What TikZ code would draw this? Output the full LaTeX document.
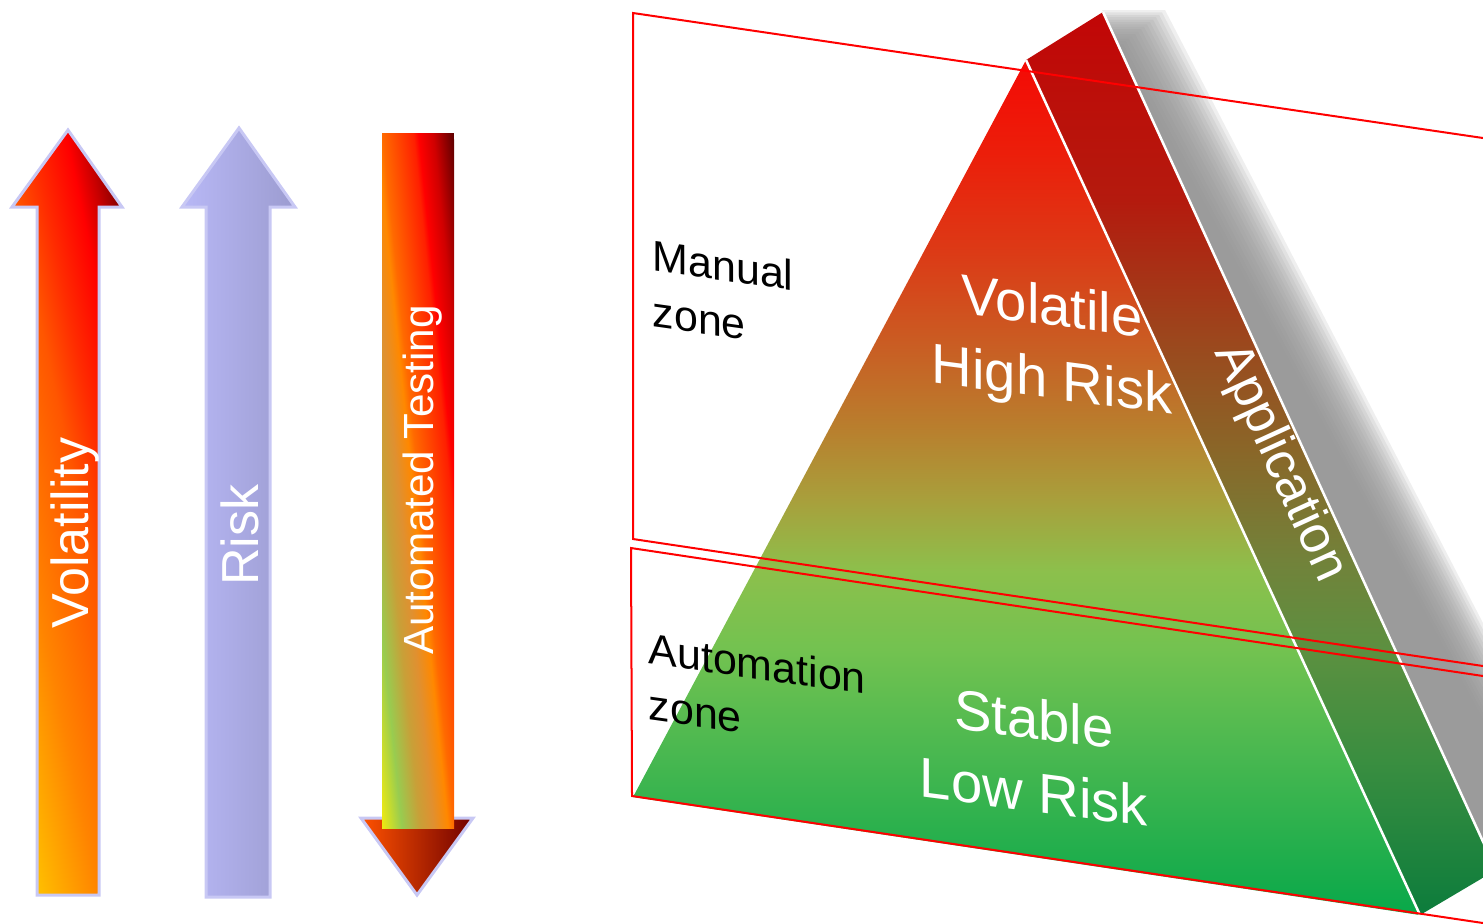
\documentclass[tikz,border=0pt]{standalone}
\usepackage{fontspec}
\setmainfont{Liberation Sans}

% colours
\definecolor{lavline}{HTML}{C8C8F4}
\definecolor{riskL}{HTML}{B8B8F6}
\definecolor{riskR}{HTML}{9C9CD0}
\definecolor{headL}{HTML}{FF5200}
\definecolor{headR}{HTML}{700000}
\definecolor{shadowgray}{HTML}{939393}
\definecolor{volA}{HTML}{FFC800}
\definecolor{volB}{HTML}{FFC000}
\definecolor{volC}{HTML}{FF8400}
\definecolor{volD}{HTML}{FF5600}
\definecolor{volE}{HTML}{FF2C00}
\definecolor{volF}{HTML}{FF0000}
\definecolor{volG}{HTML}{C80000}
\definecolor{volH}{HTML}{800000}
\definecolor{volI}{HTML}{700000}
\definecolor{atA}{HTML}{F0EA10}
\definecolor{atB}{HTML}{98CC50}
\definecolor{atC}{HTML}{C8A038}
\definecolor{atD}{HTML}{E09030}
\definecolor{atE}{HTML}{FF8800}
\definecolor{atF}{HTML}{FF6A00}
\definecolor{atG}{HTML}{FF2000}
\definecolor{atH}{HTML}{FF0000}
\definecolor{atI}{HTML}{D00000}
\definecolor{atJ}{HTML}{5A0000}
\definecolor{fr1}{HTML}{08A84A}
\definecolor{fr2}{HTML}{4AB850}
\definecolor{fr3}{HTML}{72C250}
\definecolor{fr4}{HTML}{8CC04C}
\definecolor{fr5}{HTML}{A8A03C}
\definecolor{fr6}{HTML}{B8802E}
\definecolor{fr7}{HTML}{C86024}
\definecolor{fr8}{HTML}{DC3A16}
\definecolor{fr9}{HTML}{EC1E0A}
\definecolor{fr10}{HTML}{F40A05}
\definecolor{sd1}{HTML}{0C7C3C}
\definecolor{sd2}{HTML}{3A8E40}
\definecolor{sd3}{HTML}{5C9040}
\definecolor{sd4}{HTML}{72823A}
\definecolor{sd5}{HTML}{8A6628}
\definecolor{sd6}{HTML}{9A4A1E}
\definecolor{sd7}{HTML}{B41A0E}
\definecolor{sd8}{HTML}{C20606}

% shadings (25bp = bottom of the shaded box, 75bp = top)
\pgfdeclareverticalshading{volshade}{100bp}{color(0bp)=(volA); color(25bp)=(volA); color(29.6bp)=(volB);
  color(41bp)=(volC); color(52.5bp)=(volD); color(58bp)=(volE); color(64.5bp)=(volF); color(68bp)=(volG);
  color(72bp)=(volH); color(75bp)=(volI); color(100bp)=(volI)}
\pgfdeclareverticalshading{autoshade}{100bp}{color(0bp)=(atA); color(25bp)=(atA); color(31.9bp)=(atB);
  color(38.2bp)=(atC); color(43bp)=(atD); color(47.9bp)=(atE); color(50bp)=(atF); color(60.8bp)=(atG);
  color(62.5bp)=(atH); color(67.7bp)=(atI); color(75bp)=(atJ); color(100bp)=(atJ)}
\pgfdeclareverticalshading{frontshade}{100bp}{color(0bp)=(fr1); color(25bp)=(fr1); color(34.6bp)=(fr2);
  color(40.4bp)=(fr3); color(45.1bp)=(fr4); color(49.2bp)=(fr5); color(53.3bp)=(fr6); color(57.9bp)=(fr7);
  color(63.8bp)=(fr8); color(69.6bp)=(fr9); color(75bp)=(fr10); color(100bp)=(fr10)}
\pgfdeclareverticalshading{sideshade}{100bp}{color(0bp)=(sd1); color(25bp)=(sd1); color(33.6bp)=(sd2);
  color(39.7bp)=(sd3); color(44.7bp)=(sd4); color(50.8bp)=(sd5); color(56.3bp)=(sd6); color(64.6bp)=(sd7);
  color(75bp)=(sd8); color(100bp)=(sd8)}

\tikzset{
  arrowbody/.style={draw=lavline, line width=0.03cm},
  arrowtext/.style={text=white, rotate=90, anchor=base, inner sep=0pt},
  zonetext/.style={text=black, align=left, anchor=north west, yslant=-0.14, inner sep=0pt,
    font=\fontsize{12.2pt}{15.9pt}\selectfont},
  pyrtext/.style={text=white, align=center, yslant=-0.13, inner sep=0pt,
    font=\fontsize{16pt}{20.8pt}\selectfont},
  zoneline/.style={draw=red, line width=0.02cm},
  whiteedge/.style={draw=white, line width=0.025cm},
}

\begin{document}
\begin{tikzpicture}[x=0.01cm, y=-0.01cm]
    \useasboundingbox (0,0) rectangle (1483,923);
    \clip (0,0) rectangle (1483,923);

    % Volatility arrow
    \begin{scope}
        \clip (37,895) -- (37,207) -- (12,207) -- (68,130) -- (122,207) -- (99,207) -- (99,895) -- cycle;
        \shade[shading=volshade, transform canvas={shift={(67,512.5)}, rotate=-78}] (-500,-133.4) rectangle (500,133.4);
    \end{scope}
    \draw[arrowbody] (37,895) -- (37,207) -- (12,207) -- (68,130) -- (122,207) -- (99,207) -- (99,895) -- cycle;
    \node[arrowtext, font=\fontsize{14.8pt}{17pt}\selectfont] (vol) at (88,533) {Volatility};

    % Risk arrow
    \shade[left color=riskL, right color=riskR, arrowbody] (206,897) -- (206,207) -- (182,207) -- (239,128)
        -- (295,207) -- (270,207) -- (270,897) -- cycle;
    \node[arrowtext, font=\fontsize{14.8pt}{17pt}\selectfont] (risk) at (258,535) {Risk};

    % Automated Testing arrow
    \shade[left color=headL, middle color=red, right color=headR, arrowbody] (361,818) -- (473,818) -- (417,895) -- cycle;
    \begin{scope}
        \clip (382,133) rectangle (454,828);
        \shade[shading=autoshade, transform canvas={shift={(418,480.5)}, rotate=-84.1}] (-500,-71.6) rectangle (500,71.6);
    \end{scope}
    \node[arrowtext, font=\fontsize{12pt}{14pt}\selectfont] (autotest) at (433,480) {Automated Testing};

    % Pyramid corners
    \coordinate (top) at (1026,60);
    \coordinate (back) at (1103,12);
    \coordinate (left) at (633,797);
    \coordinate (right) at (1420,915);
    \coordinate (backright) at (1496,870);

    % Shadow
    \foreach \e in {-20,-17,...,25} {
        \fill[shadowgray, opacity=0.15] ({1103+(18-0.8*\e)*0.458},{30-0.8*\e}) -- ({1140+\e},{30-0.8*\e})
            -- ({1625+\e},945) -- (1530,945) -- cycle;
    }

    % Faces
    \shade[shading=sideshade] (top) -- (back) -- (backright) -- (right) -- cycle;
    \shade[shading=frontshade] (top) -- (left) -- (right) -- cycle;
    \draw[whiteedge] (top) -- (right);
    \draw[whiteedge] (back) -- (backright);

    % Pyramid labels
    \node[pyrtext] (volatile) at (1052,347.5) {Volatile\\High Risk};
    \node[pyrtext] (stable) at (1034,755) {Stable\\Low Risk};
    \node[text=white, rotate=-65.4, inner sep=0pt, font=\fontsize{14.8pt}{17pt}\selectfont] (app) at (1280,463) {Application};

    % Zones
    \draw[zoneline] (1483,138) -- (633,13) -- (633,539) -- (1483,666);
    \draw[zoneline] (1483,676) -- (631,548) -- (632,796) -- (1483,923);
    \node[zonetext] (manual) at (652,239) {Manual\\zone};
    \node[zonetext] (automation) at (648,632) {Automation\\zone};
\end{tikzpicture}
\end{document}
